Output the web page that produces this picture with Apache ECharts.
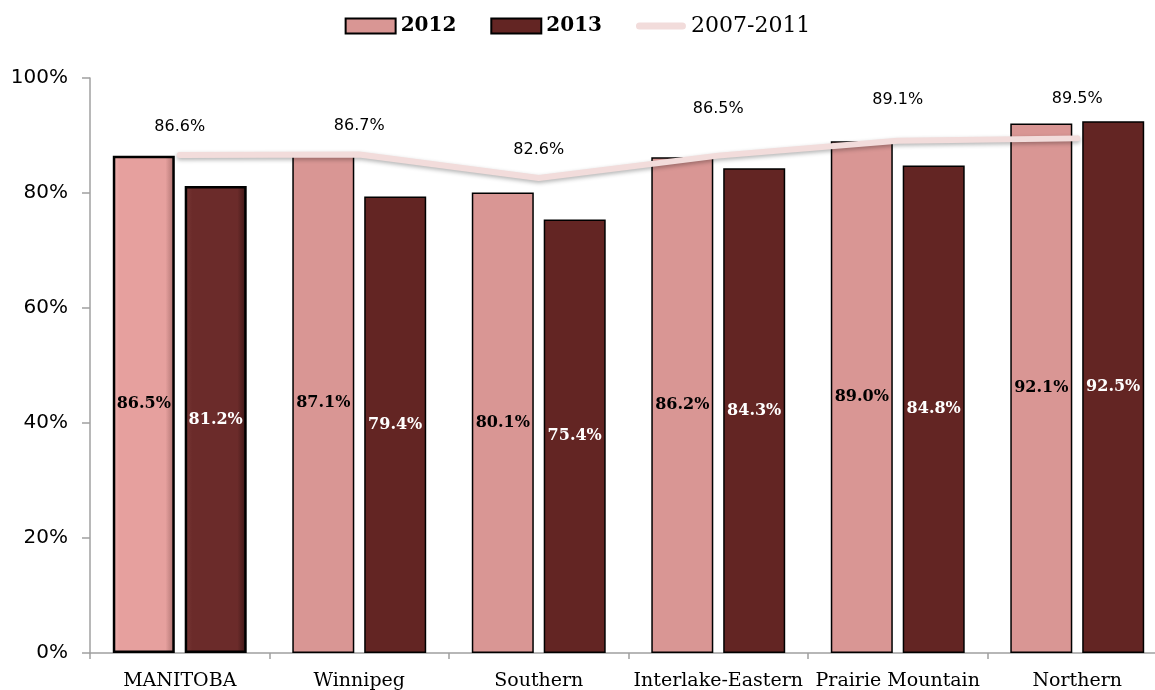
<!DOCTYPE html>
<html><head><meta charset="utf-8">
<script src="https://cdn.jsdelivr.net/npm/echarts@6/dist/echarts.min.js"></script>
<style>html,body{margin:0;padding:0;background:#fff}#c{width:1155px;height:690px}</style>
</head><body><div id="c"></div>
<script>
const categories = ['MANITOBA', 'Winnipeg', 'Southern', 'Interlake-Eastern', 'Prairie Mountain', 'Northern'];
const values2012 = [86.5, 87.1, 80.1, 86.2, 89.0, 92.1];
const values2013 = [81.2, 79.4, 75.4, 84.3, 84.8, 92.5];
const values0711 = [86.6, 86.7, 82.6, 86.5, 89.1, 89.5];
const yTicks = [0, 20, 40, 60, 80, 100];
// label distance above the line points (style only)
const lineLabelDist = [20, 20, 20, 38, 32, 31];

const serif = '"DejaVu Serif", "Liberation Serif", serif';
const sans = '"DejaVu Sans", "Liberation Sans", sans-serif';

function bevel(base, light, dark) {
  return {
    type: 'linear', x: 0, y: 0, x2: 1, y2: 0,
    colorStops: [
      {offset: 0, color: light}, {offset: 0.12, color: base},
      {offset: 0.85, color: base}, {offset: 1, color: dark}
    ]
  };
}

const d2012 = values2012.map((v, i) => i === 0 ? {value: v, itemStyle: {color: bevel('#e6a09e', '#edb4b2', '#a86e6c'), borderWidth: 2.5}} : v);
const d2013 = values2013.map((v, i) => i === 0 ? {value: v, itemStyle: {color: bevel('#6b2b2a', '#7a3a38', '#3a1615'), borderWidth: 2.5}} : v);
const dLine = values0711.map((v, i) => ({value: v, label: {distance: lineLabelDist[i]}}));

const chart = echarts.init(document.getElementById('c'));
chart.setOption({
  animation: false,
  legend: {
    top: 10, left: 'center', itemWidth: 50, itemHeight: 15, itemGap: 34,
    data: [
      {name: '2012', icon: 'rect', textStyle: {fontFamily: serif, fontWeight: 'bold', fontSize: 20, color: '#000'}},
      {name: '2013', icon: 'rect', textStyle: {fontFamily: serif, fontWeight: 'bold', fontSize: 20, color: '#000'}},
      {name: '2007-2011', icon: 'path://M4,0 L52,0 A4,4 0 0 1 52,8 L4,8 A4,4 0 0 1 4,0 Z',
        itemStyle: {color: '#f2dcdb', borderWidth: 0, opacity: 1},
        textStyle: {fontFamily: serif, fontSize: 22, color: '#000'}}
    ]
  },
  grid: {left: 90, width: 1077, top: 78, bottom: 37, containLabel: false, outerBoundsMode: 'none'},
  xAxis: {
    type: 'category', data: categories,
    axisLine: {lineStyle: {color: '#a0a0a0', width: 1.5}},
    axisTick: {show: true, length: 6, lineStyle: {color: '#a0a0a0', width: 1.5}},
    axisLabel: {fontFamily: serif, fontSize: 19, color: '#000', margin: 19, interval: 0}
  },
  yAxis: {
    type: 'value', min: 0, max: 100, interval: 20,
    splitLine: {show: false},
    axisLine: {show: true, lineStyle: {color: '#a0a0a0', width: 1.5}},
    axisTick: {show: true, length: 8, lineStyle: {color: '#a0a0a0', width: 1.5}},
    axisLabel: {fontFamily: sans, fontSize: 20, color: '#000', margin: 22, formatter: v => yTicks.includes(v) ? v + '%' : ''}
  },
  series: [
    {
      name: '2012', type: 'bar', data: d2012, barWidth: 62, barGap: '16%',
      itemStyle: {color: '#d99694', borderColor: '#000', borderWidth: 1.5},
      label: {show: true, position: 'inside', formatter: p => p.value.toFixed(1) + '%', fontFamily: serif, fontWeight: 'bold', fontSize: 16, color: '#000'}
    },
    {
      name: '2013', type: 'bar', data: d2013, barWidth: 62,
      itemStyle: {color: '#632523', borderColor: '#000', borderWidth: 1.5},
      label: {show: true, position: 'inside', formatter: p => p.value.toFixed(1) + '%', fontFamily: serif, fontWeight: 'bold', fontSize: 16, color: '#fff'}
    },
    {
      name: '2007-2011', type: 'line', data: dLine, symbol: 'circle', symbolSize: 1, showSymbol: true, z: 5,
      lineStyle: {color: '#f2dcdb', width: 6, cap: 'round', shadowColor: 'rgba(0,0,0,0.3)', shadowBlur: 4, shadowOffsetY: 2},
      itemStyle: {color: 'rgba(242,220,219,0)'},
      labelLayout: {hideOverlap: false, moveOverlap: null},
      label: {show: true, position: 'top', distance: 20, formatter: p => p.value.toFixed(1) + '%', fontFamily: sans, fontSize: 16, color: '#000'}
    }
  ]
});
</script></body></html>
